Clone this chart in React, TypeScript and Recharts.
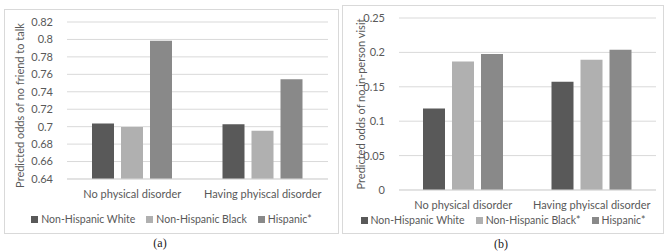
import React from 'react';
import { BarChart, Bar, XAxis, YAxis, CartesianGrid, Legend } from 'recharts';

// categories and series shared by both panels
const categories = ['No physical disorder', 'Having phyiscal disorder'];

// panel (a): predicted odds of no friend to talk
const friendWhite = [0.7035, 0.7028];
const friendBlack = [0.6997, 0.6954];
const friendHispanic = [0.7985, 0.7543];
const friendTicks = [0.64, 0.66, 0.68, 0.7, 0.72, 0.74, 0.76, 0.78, 0.8, 0.82];

// panel (b): predicted odds of no in-person visit
const visitWhite = [0.1185, 0.1572];
const visitBlack = [0.1868, 0.1893];
const visitHispanic = [0.1975, 0.2037];
const visitTicks = [0, 0.05, 0.1, 0.15, 0.2, 0.25];

const FONT = 'Lato, "Open Sans", sans-serif';
const FS = 11;
const TEXT = '#595959';
const GRID = '#d9d9d9';
const colors = { white: '#595959', black: '#b0b0b0', hispanic: '#898989' };

const fmt = (v: number) => String(Number(v.toFixed(2)));

// legend drawn in series order (recharts 3 sorts by name otherwise)
const renderLegend = (names: string[]) => () => {
  const fills = [colors.white, colors.black, colors.hispanic];
  return (
    <div style={{ textAlign: 'center', fontSize: 10.5, color: TEXT, fontFamily: FONT, whiteSpace: 'nowrap' }}>
      {names.map((n, i) => (
        <span key={n} style={{ display: 'inline-block', marginRight: i < names.length - 1 ? 11 : 0 }}>
          <span
            style={{
              display: 'inline-block',
              width: 7,
              height: 7,
              background: fills[i],
              marginRight: 3,
              verticalAlign: 'middle',
              position: 'relative',
              top: -1,
            }}
          />
          {n}
        </span>
      ))}
    </div>
  );
};

interface PanelProps {
  left: number;
  top: number;
  width: number;
  height: number;
  margin: { top: number; right: number; bottom: number; left: number };
  axisWidth: number;
  rows: any[];
  ticks: number[];
  yLabel: string;
  labelDx: number;
  labelDy: number;
  names: string[];
  legendTop: number;
}

const Panel: React.FC<PanelProps> = (p) => (
  <div
    style={{
      position: 'absolute',
      left: p.left,
      top: p.top,
      width: p.width,
      height: p.height,
      border: `1px solid ${GRID}`,
      boxSizing: 'border-box',
      background: '#fff',
    }}
  >
    <BarChart
      width={p.width - 2}
      height={p.height - 2}
      data={p.rows}
      margin={p.margin}
      barSize={22}
      barGap={7}
      style={{ fontFamily: FONT }}
    >
      <CartesianGrid vertical={false} stroke={GRID} />
      <XAxis
        dataKey="category"
        height={30}
        axisLine={{ stroke: GRID }}
        tickLine={false}
        tickSize={0}
        tickMargin={11}
        tick={{ fontSize: FS, fill: TEXT }}
        interval={0}
      />
      <YAxis
        width={p.axisWidth}
        domain={[p.ticks[0], p.ticks[p.ticks.length - 1]]}
        ticks={p.ticks}
        interval={0}
        allowDataOverflow={true}
        tickFormatter={fmt}
        axisLine={false}
        tickLine={false}
        tickSize={0}
        tickMargin={14}
        tick={{ fontSize: FS, fill: TEXT }}
        label={{
          value: p.yLabel,
          angle: -90,
          position: 'center',
          dx: p.labelDx,
          dy: p.labelDy,
          fill: TEXT,
          fontSize: FS,
        }}
      />
      <Legend
        layout="horizontal"
        verticalAlign="middle"
        align="center"
        wrapperStyle={{ top: p.legendTop, left: 0, width: p.width - 2 }}
        content={renderLegend(p.names)}
      />
      <Bar dataKey="white" name={p.names[0]} fill={colors.white} isAnimationActive={false} />
      <Bar dataKey="black" name={p.names[1]} fill={colors.black} isAnimationActive={false} />
      <Bar dataKey="hispanic" name={p.names[2]} fill={colors.hispanic} isAnimationActive={false} />
    </BarChart>
  </div>
);

const friendRows = categories.map((c, i) => ({
  category: c,
  white: friendWhite[i],
  black: friendBlack[i],
  hispanic: friendHispanic[i],
}));

const visitRows = categories.map((c, i) => ({
  category: c,
  white: visitWhite[i],
  black: visitBlack[i],
  hispanic: visitHispanic[i],
}));

const captionStyle: React.CSSProperties = {
  position: 'absolute',
  fontFamily: '"Liberation Serif", "DejaVu Serif", serif',
  fontSize: 12,
  color: '#222',
  transform: 'translate(-50%, -50%)',
};

export default function App() {
  return (
    <div style={{ position: 'absolute', left: 0, top: 0, width: 669, height: 252, background: '#fff' }}>
      <Panel
        left={4}
        top={9}
        width={335}
        height={225}
        margin={{ top: 12, right: 10, bottom: 24, left: 0 }}
        axisWidth={62}
        rows={friendRows}
        ticks={friendTicks}
        yLabel="Predicted odds of no friend to talk"
        labelDx={-16}
        labelDy={5}
        names={['Non-Hispanic White', 'Non-Hispanic Black', 'Hispanic*']}
        legendTop={203}
      />
      <Panel
        left={342}
        top={5}
        width={322}
        height={229}
        margin={{ top: 12, right: 7, bottom: 13, left: 0 }}
        axisWidth={56}
        rows={visitRows}
        ticks={visitTicks}
        yLabel="Predicted odds of no in-person visit"
        labelDx={-10}
        labelDy={0}
        names={['Non-Hispanic White', 'Non-Hispanic Black*', 'Hispanic*']}
        legendTop={208}
      />
      <div style={{ ...captionStyle, left: 160, top: 243 }}>(a)</div>
      <div style={{ ...captionStyle, left: 501, top: 244 }}>(b)</div>
    </div>
  );
}
